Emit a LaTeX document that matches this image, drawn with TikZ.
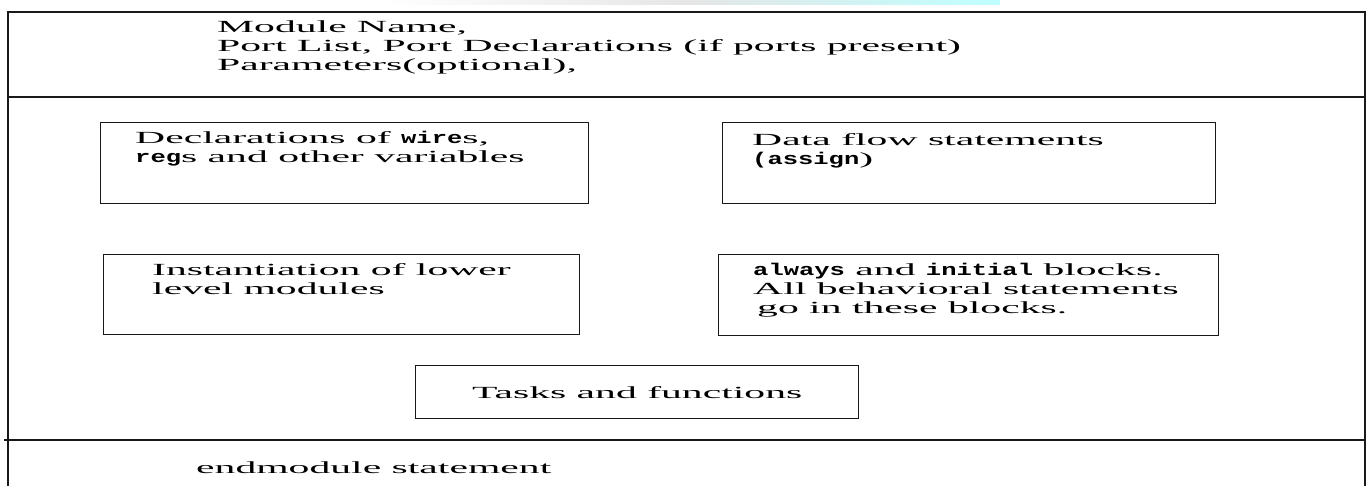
\documentclass[tikz,border=0pt]{standalone}
\usepackage{fontspec}
\setmainfont{Liberation Serif}[FakeStretch=2.45]
\setmonofont{Liberation Mono}[FakeStretch=1.5]
\usetikzlibrary{shadings}
\newcommand{\kw}[1]{{\ttfamily\bfseries #1}}
\begin{document}
\begin{tikzpicture}[x=1pt,y=-1pt,
  frameline/.style={draw=black!90, line width=1.3pt},
  box/.style={draw=black!90, line width=1.3pt, inner sep=0pt, anchor=north west},
  txt/.style={align=left, inner sep=0pt, anchor=north west, font=\fontsize{17}{19}\selectfont}]
\useasboundingbox (0,0) rectangle (1371,486);
% faint banner strip at the very top
\shade[left color=white, right color=cyan!25, middle color=gray!20] (380,0) rectangle (1000,5);
% outer frame
\coordinate (fbl) at (8,486);
\coordinate (ftl) at (8,12);
\coordinate (ftr) at (1365,12);
\coordinate (fbr) at (1365,486);
\coordinate (d1l) at (8,97);
\coordinate (d1r) at (1365,97);
\coordinate (d2l) at (4,440);
\coordinate (d2r) at (1365,440);
\draw[frameline] (fbl) -- (ftl) -- (ftr) -- (fbr);
\draw[frameline] (d1l) -- (d1r);
\draw[frameline] (d2l) -- (d2r);
% header text
\node[txt] (head) at (217,21) {Module Name,\\Port List, Port Declarations (if ports present)\\Parameters(optional),};
% boxes
\node[box, minimum width=488, minimum height=81] (declbox) at (100,122) {};
\node[box, minimum width=493, minimum height=81] (flowbox) at (722,122) {};
\node[box, minimum width=476, minimum height=80] (instbox) at (103,254) {};
\node[box, minimum width=500, minimum height=81] (alwbox) at (718,254) {};
\node[box, minimum width=443, minimum height=53] (taskbox) at (415,365) {};
% box texts
\node[txt] (decltxt) at (135,131) {Declarations of \kw{wire}s,\\\kw{reg}s and other variables};
\node[txt] (flowtxt) at (752,133) {Data flow statements\\\kw{(assign})};
\node[txt] (insttxt) at (152,263) {Instantiation of lower\\level modules};
\node[txt] (alwtxt) at (753,263) {\kw{always} and \kw{initial} blocks.\\All behavioral statements\\\hspace*{4pt}go in these blocks.};
\node[txt, anchor=center] (tasktxt) at (taskbox.center) {Tasks and functions};
\node[txt] (endtxt) at (196,462) {endmodule statement};
\end{tikzpicture}
\end{document}
